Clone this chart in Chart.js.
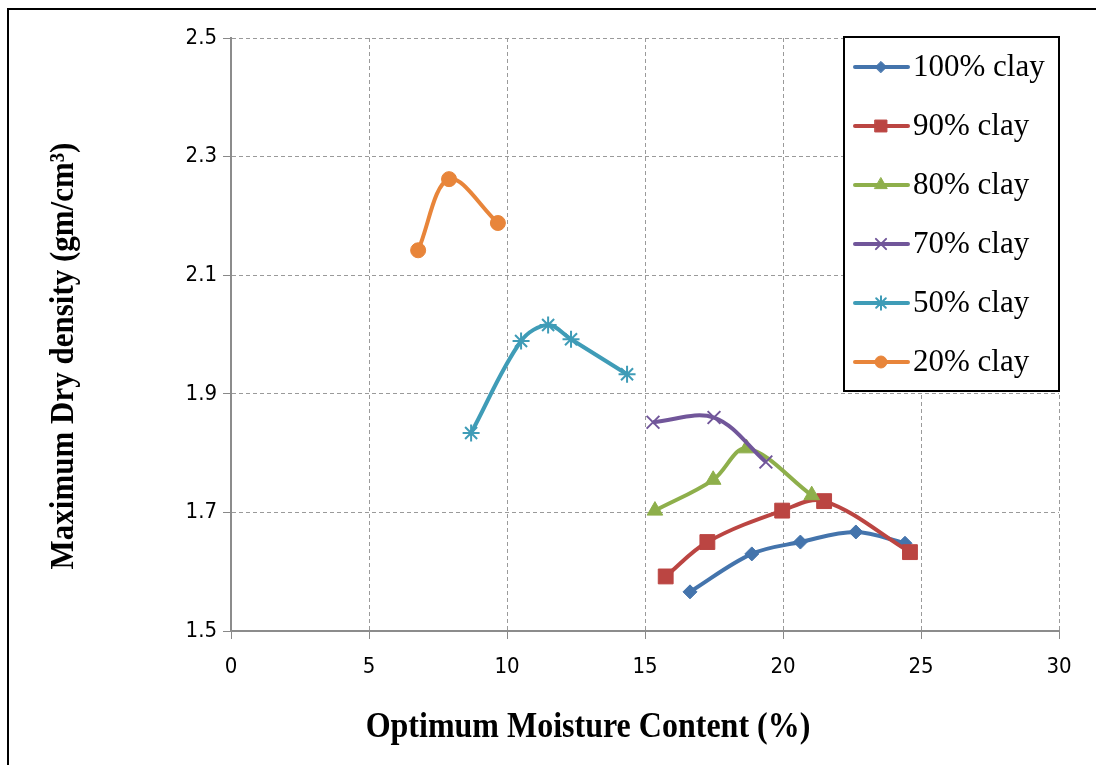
<!DOCTYPE html>
<html>
<head>
<meta charset="utf-8">
<script src="https://cdn.jsdelivr.net/npm/chart.js@4.4.0/dist/chart.umd.min.js"></script>
<style>
  html, body { margin: 0; padding: 0; background: #fff; }
  #wrap { width: 1096px; height: 765px; position: relative; }
</style>
</head>
<body>
<div id="wrap"><canvas id="mddChart" width="1096" height="765"></canvas></div>
<script>
// Compaction curves - MDD vs OMC for clay mixes

const seriesNames = ['100% clay', '90% clay', '80% clay', '70% clay', '50% clay', '20% clay'];

const clay100X = [16.63, 18.87, 20.63, 22.64, 24.42];
const clay100Y = [1.566, 1.630, 1.650, 1.667, 1.648];

const clay90X = [15.75, 17.26, 19.97, 21.49, 24.60];
const clay90Y = [1.592, 1.650, 1.703, 1.719, 1.633];

const clay80X = [15.36, 17.47, 18.68, 21.04];
const clay80Y = [1.703, 1.755, 1.808, 1.729];

const clay70X = [15.29, 17.50, 19.38];
const clay70Y = [1.852, 1.860, 1.785];

const clay50X = [8.70, 10.51, 11.49, 12.32, 14.35];
const clay50Y = [1.834, 1.989, 2.016, 1.992, 1.933];

const clay20X = [6.78, 7.90, 9.67];
const clay20Y = [2.142, 2.262, 2.188];

const xTicks = [0, 5, 10, 15, 20, 25, 30];
const yTicks = [1.5, 1.7, 1.9, 2.1, 2.3, 2.5];

const xTitle = 'Optimum Moisture Content (%)';
const yTitle = 'Maximum Dry density (gm/cm³)';

const seriesX = [clay100X, clay90X, clay80X, clay70X, clay50X, clay20X];
const seriesY = [clay100Y, clay90Y, clay80Y, clay70Y, clay50Y, clay20Y];

const colors = ['#4474AC', '#BB4542', '#8EAF4B', '#71569A', '#3F9CB7', '#E8853A'];
const markers = ['rectRot', 'rect', 'triangle', 'crossRot', 'star', 'circle'];
const markerSize = [7, 10.5, 9, 9, 8.5, 7.5];

function toPoints(xs, ys) {
  return xs.map((x, i) => ({ x: x, y: ys[i] }));
}

const datasets = seriesNames.map((name, i) => ({
  label: name,
  data: toPoints(seriesX[i], seriesY[i]),
  borderColor: colors[i],
  backgroundColor: colors[i],
  borderWidth: 4,
  tension: 0.35,
  pointStyle: markers[i],
  pointRadius: markerSize[i],
  pointBorderWidth: (markers[i] == 'crossRot' || markers[i] == 'star') ? 2 : 1,
  pointBorderColor: colors[i],
  pointBackgroundColor: colors[i],
  order: -i
}));

const serif = '"Liberation Serif", "Times New Roman", serif';

// outer frame + axis titles
const framePlugin = {
  id: 'frame',
  beforeDraw(chart) {
    const ctx = chart.ctx;
    ctx.save();
    ctx.fillStyle = '#fff';
    ctx.fillRect(0, 0, chart.width, chart.height);
    ctx.strokeStyle = '#000';
    ctx.lineWidth = 2;
    ctx.beginPath();
    ctx.moveTo(8, chart.height + 2);
    ctx.lineTo(8, 9);
    ctx.lineTo(chart.width + 2, 9);
    ctx.stroke();

    ctx.fillStyle = '#000';
    ctx.font = 'bold 32px ' + serif;
    ctx.textAlign = 'center';
    ctx.textBaseline = 'middle';
    // x title
    ctx.save();
    ctx.translate(588, 728);
    ctx.scale(1, 1.1);
    ctx.fillText(xTitle, 0, 0);
    ctx.restore();
    // y title
    ctx.save();
    ctx.translate(64, 356);
    ctx.rotate(-Math.PI / 2);
    ctx.scale(1, 1.1);
    ctx.font = 'bold 31px ' + serif;
    ctx.fillText(yTitle, 0, 0);
    ctx.restore();
    ctx.restore();
  }
};

// legend box inside the plot, top right
const boxLegend = {
  id: 'boxLegend',
  afterDraw(chart) {
    const ctx = chart.ctx;
    const area = chart.chartArea;
    const w = 215, h = 354;
    const left = area.right - w, top = area.top - 1;
    ctx.save();
    ctx.fillStyle = '#fff';
    ctx.fillRect(left, top, w, h);
    ctx.strokeStyle = '#000';
    ctx.lineWidth = 2;
    ctx.strokeRect(left, top, w, h);
    ctx.font = '31px ' + serif;
    ctx.textBaseline = 'middle';
    chart.data.datasets.forEach((ds, i) => {
      const y = top + 30 + i * 59;
      ctx.strokeStyle = ds.borderColor;
      ctx.lineWidth = 4;
      ctx.lineCap = 'round';
      ctx.beginPath();
      ctx.moveTo(left + 11, y);
      ctx.lineTo(left + 64, y);
      ctx.stroke();
      ctx.fillStyle = ds.pointBackgroundColor;
      ctx.strokeStyle = ds.pointBorderColor;
      ctx.lineWidth = ds.pointBorderWidth;
      Chart.helpers.drawPoint(ctx, {
        pointStyle: ds.pointStyle,
        radius: ds.pointRadius * 0.8,
        borderWidth: ds.pointBorderWidth,
        rotation: 0
      }, left + 37, y);
      ctx.fillStyle = '#000';
      ctx.fillText(ds.label, left + 69, y + 1);
    });
    ctx.restore();
  }
};

const tickFont = { family: "'Liberation Sans Narrow', 'DejaVu Sans Condensed', sans-serif", size: 22 };

new Chart(document.getElementById('mddChart'), {
  type: 'line',
  data: { datasets: datasets },
  plugins: [framePlugin, boxLegend],
  options: {
    responsive: false,
    animation: false,
    layout: { padding: { left: 0, top: 38, right: 37, bottom: 0 } },
    plugins: {
      legend: { display: false },
      tooltip: { enabled: false }
    },
    scales: {
      x: {
        type: 'linear',
        min: 0, max: 30,
        afterBuildTicks: s => { s.ticks = xTicks.map(v => ({ value: v })); },
        afterFit: s => { s.height = 134; },
        ticks: { font: tickFont, color: '#000', padding: 15 },
        grid: { color: '#9a9a9a', lineWidth: 1, tickLength: 8, tickColor: '#888', tickBorderDash: [] },
        border: { display: true, color: '#8c8c8c', width: 2, dash: [4, 3] }
      },
      y: {
        type: 'linear',
        min: 1.5, max: 2.5,
        afterBuildTicks: s => { s.ticks = yTicks.map(v => ({ value: v })); },
        afterFit: s => { s.width = 231; },
        ticks: { font: tickFont, color: '#000', padding: 6, callback: v => v.toFixed(1) },
        grid: { color: '#9a9a9a', lineWidth: 1, tickLength: 8, tickColor: '#888', tickBorderDash: [] },
        border: { display: true, color: '#8c8c8c', width: 2, dash: [4, 3] }
      }
    }
  }
});
</script>
</body>
</html>
